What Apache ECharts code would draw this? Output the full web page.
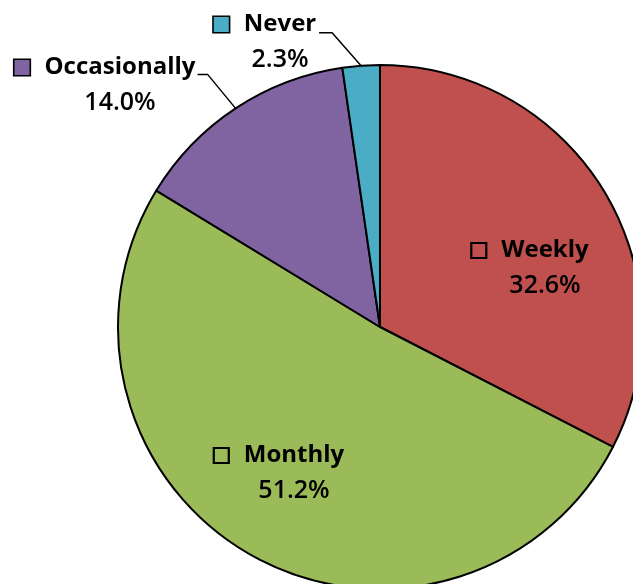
<!DOCTYPE html>
<html lang="en">
<head>
	<meta charset="UTF-8">
	<title>Pie</title>
	<script src="https://cdn.jsdelivr.net/npm/echarts@6/dist/echarts.min.js"></script>
	<style>html,body{margin:0;background:#fff;}</style>
</head>
<body>
	<div id="main" style="width:633px;height:584px;"></div>
	<script type="text/javascript">
        var categories = ['Weekly', 'Monthly', 'Occasionally', 'Never'];
        var shares = [32.6, 51.2, 14.0, 2.3];
        var colors = ['#C0504D', '#9BBB59', '#8064A2', '#4BACC6'];
        var outsideLabel = [false, false, true, true];

        // layout of the pie and its labels
        var cx = 380, cy = 327, radius = 262;
        var labelPos = [[530, 268], [279, 473], [105, 85], [265, 42]];
        var leader = [null, null, [[-28, -34], [-38, -34]], [[-29, -33], [-42, -33]]];
        var font = '"Open Sans", sans-serif';

        var total = shares.reduce(function (a, b) { return a + b; }, 0);

        function edgePoint(i) {
            var before = 0;
            for (var k = 0; k < i; k++) before += shares[k];
            var mid = (before + shares[i] / 2) / total * 2 * Math.PI;
            return [cx + radius * Math.sin(mid), cy - radius * Math.cos(mid)];
        }

        var data = categories.map(function (name, i) {
            return {
                name: name,
                value: shares[i],
                itemStyle: { color: colors[i] },
                label: {
                    position: outsideLabel[i] ? 'outside' : 'inside',
                    rich: {
                        sq: {
                            width: 15, height: 15, align: 'center',
                            borderColor: '#000', borderWidth: outsideLabel[i] ? 1.6 : 1.1,
                            backgroundColor: outsideLabel[i] ? colors[i] : 'transparent'
                        }
                    }
                },
                labelLine: { show: outsideLabel[i] }
            };
        });

        var myChart = echarts.init(document.getElementById('main'));
        myChart.setOption({
            animation: false,
            series: [{
                type: 'pie',
                center: [cx, cy],
                radius: radius,
                startAngle: 90,
                clockwise: true,
                avoidLabelOverlap: false,
                silent: true,
                itemStyle: { borderColor: '#000', borderWidth: 2 },
                labelLine: { lineStyle: { color: '#000', width: 1.5 }, smooth: false },
                label: {
                    show: true,
                    color: '#000',
                    formatter: function (p) {
                        return '{sq|}{gap|}{n|' + p.name + '}\n{sp|}{p|' + p.value.toFixed(1) + '%}';
                    },
                    rich: {
                        gap: { width: 15, align: 'center' },
                        sp: { width: 30, align: 'center' },
                        n: { fontFamily: font, fontSize: 24, fontWeight: 'bold', color: '#000', align: 'center', lineHeight: 35 },
                        p: { fontFamily: font, fontSize: 25, fontWeight: 600, color: '#000', align: 'center', lineHeight: 35 }
                    }
                },
                labelLayout: function (p) {
                    var i = p.dataIndex;
                    var res = {
                        x: labelPos[i][0],
                        y: labelPos[i][1],
                        align: 'center',
                        verticalAlign: 'middle'
                    };
                    if (leader[i]) {
                        var e = edgePoint(i);
                        res.labelLinePoints = [e].concat(leader[i].map(function (d) {
                            return [e[0] + d[0], e[1] + d[1]];
                        }));
                    }
                    return res;
                },
                data: data
            }]
        });
    </script>
</body>
</html>
